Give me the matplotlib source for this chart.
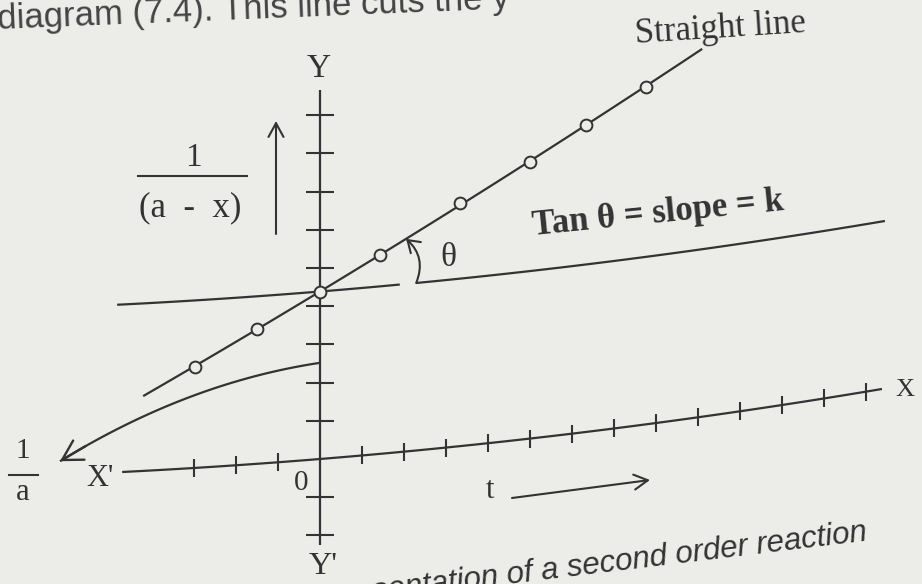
import numpy as np
import matplotlib.pyplot as plt
import matplotlib.transforms as mtransforms

W, H = 922, 584
INK = "#333333"
PAPER = "#ecece9"
SERIF = "Liberation Serif"
SANS = "Liberation Sans"

# tick marks along the t axis and the 1/(a-x) axis
t_ticks = [-3, -2, -1, 1, 2, 3, 4, 5, 6, 7, 8, 9, 10, 11, 12, 13]
y_ticks = [-2, -1, 1, 2, 3, 4, 5, 6, 7, 8, 9]

# experimental points: time t and 1/(a-x)
t_obs = [-2.98, -1.5, 0.0, 1.43, 3.33, 5.0, 6.33, 7.76]
inv_obs = [2.64, 3.53, 4.38, 5.21, 6.37, 7.24, 8.04, 8.83]

# curve that runs back to 1/a
t_curve = [0.0, -1.12, -2.31, -3.5, -4.69, -5.48, -6.19]
inv_curve = [2.52, 2.37, 2.12, 1.73, 1.15, 0.83, 0.34]


class PageBend(mtransforms.Transform):
    """Lift y by a*t + b*t**2 so horizontals rise to the right like the printed page."""
    input_dims = 2
    output_dims = 2

    def __init__(self, a, b):
        super().__init__()
        self.a = a
        self.b = b

    def transform_non_affine(self, values):
        values = np.asarray(values, dtype=float)
        out = values.copy()
        out[:, 1] = values[:, 1] + self.a * values[:, 0] + self.b * values[:, 0] ** 2
        return out


def fig_xy(x, y):
    # pixel position (from top-left) -> axes fraction
    return x / W, 1 - y / H


fig = plt.figure(figsize=(W / 100, H / 100), dpi=100)
fig.patch.set_facecolor(PAPER)
ax = fig.add_axes([0, 0, 1, 1])
ax.set_facecolor(PAPER)
ax.set_xlim(-320 / 42, (W - 320) / 42)
ax.set_ylim((459 - H) / 38.2, 459 / 38.2)
ax.set_autoscale_on(False)
ax.axis("off")

tr = PageBend(0.0891, 0.00358) + ax.transData
line_kw = dict(color=INK, lw=1.6, solid_capstyle="butt", transform=tr)

# axes
t_axis = np.linspace(-4.71, 13.38, 80)
ax.plot(t_axis, np.zeros_like(t_axis), **line_kw)
ax.plot([0, 0], [-2.25, 9.66], **line_kw)
ax.plot(t_ticks, np.zeros(len(t_ticks)), ls="none", marker="|", ms=13,
        mew=1.5, color=INK, transform=tr)
ax.plot(np.zeros(len(y_ticks)), y_ticks, ls="none", marker="_", ms=20,
        mew=1.5, color=INK, transform=tr)

# straight line through the points
coef = np.polyfit(t_obs, inv_obs, 1)
t_line = np.linspace(-4.21, 9.1, 80)
ax.plot(t_line, np.polyval(coef, t_line), **line_kw)
ax.plot(t_obs, inv_obs, ls="none", marker="o", ms=8.5, mfc=PAPER, mec=INK,
        mew=1.4, transform=tr, zorder=3)

# horizontal through the intercept, broken where the angle is marked
level = coef[1]
for a, b in [(-4.83, 1.9), (2.29, 13.45)]:
    seg = np.linspace(a, b, 60)
    ax.plot(seg, np.full_like(seg, level), **line_kw)

t_tip = 2.05
ax.annotate("", xy=(t_tip, np.polyval(coef, t_tip)), xytext=(2.29, level),
            xycoords=tr, textcoords=tr,
            arrowprops=dict(arrowstyle="->,head_length=0.45,head_width=0.3",
                            connectionstyle="arc3,rad=0.35", color=INK, lw=1.5,
                            shrinkA=0, shrinkB=0, mutation_scale=18))

# extrapolated curve towards 1/a (smooth cubic through the traced points)
curve_fit = np.polyfit(t_curve, inv_curve, 3)
t_smooth = np.linspace(t_curve[-1], t_curve[0], 100)
ax.plot(t_smooth, np.polyval(curve_fit, t_smooth), **line_kw)
t_end, t_prev = t_curve[-1], t_curve[-1] + 0.6
ax.annotate("", xy=(t_end, np.polyval(curve_fit, t_end)),
            xytext=(t_prev, np.polyval(curve_fit, t_prev)),
            xycoords=tr, textcoords=tr,
            arrowprops=dict(arrowstyle="->,head_length=0.7,head_width=0.4",
                            color=INK, lw=1.7, shrinkA=0, shrinkB=0,
                            mutation_scale=20))

# direction arrows for t and 1/(a-x)
arrow_kw = dict(arrowstyle="->,head_length=0.55,head_width=0.3", color=INK,
                lw=1.5, shrinkA=0, shrinkB=0, mutation_scale=18)
ax.annotate("", xy=fig_xy(650, 480), xytext=fig_xy(512, 498),
            xycoords="axes fraction", textcoords="axes fraction", arrowprops=arrow_kw)
ax.annotate("", xy=fig_xy(276, 121), xytext=fig_xy(276, 234),
            xycoords="axes fraction", textcoords="axes fraction", arrowprops=arrow_kw)

# fraction bars
for x0, x1, y in [(138, 247, 176), (9, 38, 475)]:
    ax.plot([x0 / W, x1 / W], [1 - y / H, 1 - y / H], color=INK, lw=1.5,
            transform=ax.transAxes)


def label(x, y, s, size, family=SERIF, **kw):
    kw.setdefault("ha", "center")
    kw.setdefault("va", "center")
    ax.text(*fig_xy(x, y), s, transform=ax.transAxes, fontsize=size,
            family=family, color=INK, **kw)


label(319, 69, "Y", 24)
label(323, 567, "Y'", 23)
label(905, 390, "X", 19)
label(100, 478, "X'", 22)
label(301, 483, "0", 21)
label(490, 491, "t", 22)
label(448, 258, "θ", 24)
label(193, 158, "1", 24)
label(190, 208, "(a  -  x)", 25)
label(23, 451, "1", 21)
label(23, 492, "a", 22)

ax.text(*fig_xy(635, 43), "Straight line", transform=ax.transAxes, fontsize=25,
        family=SERIF, color=INK, ha="left", va="baseline", rotation=3.7,
        rotation_mode="anchor")
ax.text(*fig_xy(533, 235), "Tan θ = slope = k", transform=ax.transAxes,
        fontsize=25, family=SERIF, weight="bold", color=INK, ha="left",
        va="baseline", rotation=5.7, rotation_mode="anchor")

# running text above and the caption below
ax.text(*fig_xy(-2, 29), "diagram (7.4). This line cuts the y", transform=ax.transAxes,
        fontsize=25, family=SANS, color="#444444", ha="left", va="baseline",
        rotation=2.3, rotation_mode="anchor")
ax.text(*fig_xy(868, 540), "representation of a second order reaction",
        transform=ax.transAxes, fontsize=22.5, family=SANS, style="italic",
        color=INK, ha="right", va="baseline", rotation=6.9, rotation_mode="anchor")

fig.savefig("out.png", dpi=100, facecolor=PAPER)
